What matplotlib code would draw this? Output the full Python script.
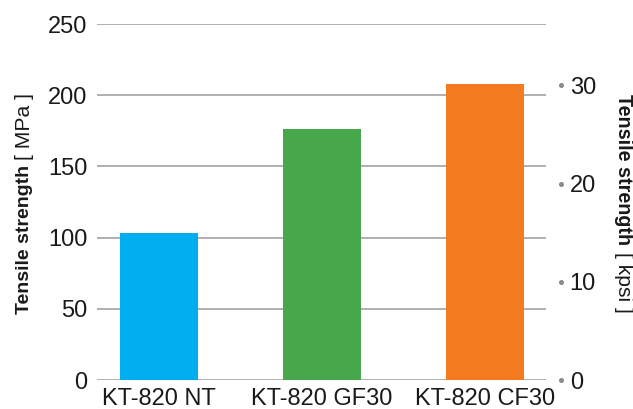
import numpy as np
import matplotlib
matplotlib.use("Agg")
import matplotlib.pyplot as plt
import matplotlib.transforms as mtransforms

plt.rcParams.update({
    "font.family": ["Liberation Sans", "DejaVu Sans"],
    "font.size": 17,
})

# ── Data ────────────────────────────────────────────────────────────────────
grades   = ["KT-820 NT", "KT-820 GF30", "KT-820 CF30"]
mpa      = [103, 176, 208]
colors   = ["#00AEEF", "#46A84A", "#F47B20"]
mpa_ticks  = [0, 50, 100, 150, 200, 250]
kpsi_ticks = [0, 10, 20, 30]
MPA_PER_KPSI = 6.894757

TXT  = "#1a1a1a"
GRID = "#9a9a9a"

fig = plt.figure(figsize=(6.33, 4.09), dpi=100)
ax = fig.add_axes([0.1532, 0.0709, 0.7094, 0.8704])

x = np.arange(len(grades))
ax.bar(x, mpa, width=0.48, color=colors, zorder=3)

ax.set_xlim(-0.38, 2.375)
ax.set_ylim(0, 250)
ax.set_yticks(mpa_ticks)
ax.set_xticks(x)
ax.set_xticklabels(grades)
ax.yaxis.grid(True, color=GRID, lw=1.1, zorder=0)
for s in ax.spines.values():
    s.set_visible(False)
ax.tick_params(axis="y", length=0, pad=7, colors=TXT)
ax.tick_params(axis="x", length=0, pad=6, colors=TXT)

# secondary axis in kpsi
ax2 = ax.twinx()
ax2.set_ylim(0, 250 / MPA_PER_KPSI)
ax2.set_yticks(kpsi_ticks)
for s in ax2.spines.values():
    s.set_visible(False)
ax2.tick_params(axis="y", length=0, pad=17, colors=TXT)
dot_tr = mtransforms.blended_transform_factory(ax2.transAxes, ax2.transData)
ax2.plot([1.033] * len(kpsi_ticks), kpsi_ticks, "o", ms=2.6, color="#8a8a8a",
         transform=dot_tr, clip_on=False)

# ── axis labels: bold name + regular unit (pinned at both ends) ──────────────
def px(xp, yp):
    return xp / 633, 1 - yp / 409

def fit_len(t, target):
    # scale a rotated text so that its length on screen is `target` pixels
    for _ in range(2):
        fig.canvas.draw()
        h = t.get_window_extent(fig.canvas.get_renderer()).height
        t.set_fontsize(t.get_fontsize() * target / h)

lb = fig.text(*px(25, 314), "Tensile strength", rotation=90, fontsize=15,
              fontweight="bold", color=TXT, ha="center", va="bottom")
lu = fig.text(*px(25, 93), "[ MPa ]", rotation=90, fontsize=15,
              color=TXT, ha="center", va="top")
rb = fig.text(*px(623, 94), "Tensile strength", rotation=270, fontsize=15,
              fontweight="bold", color=TXT, ha="center", va="top")
ru = fig.text(*px(623, 313), "[ kpsi ]", rotation=270, fontsize=15,
              color=TXT, ha="center", va="bottom")

fit_len(lb, 149)
fit_len(lu, 67)
fit_len(rb, 151)
ru.set_fontsize(lu.get_fontsize())

fig.savefig("out.png", dpi=100)
